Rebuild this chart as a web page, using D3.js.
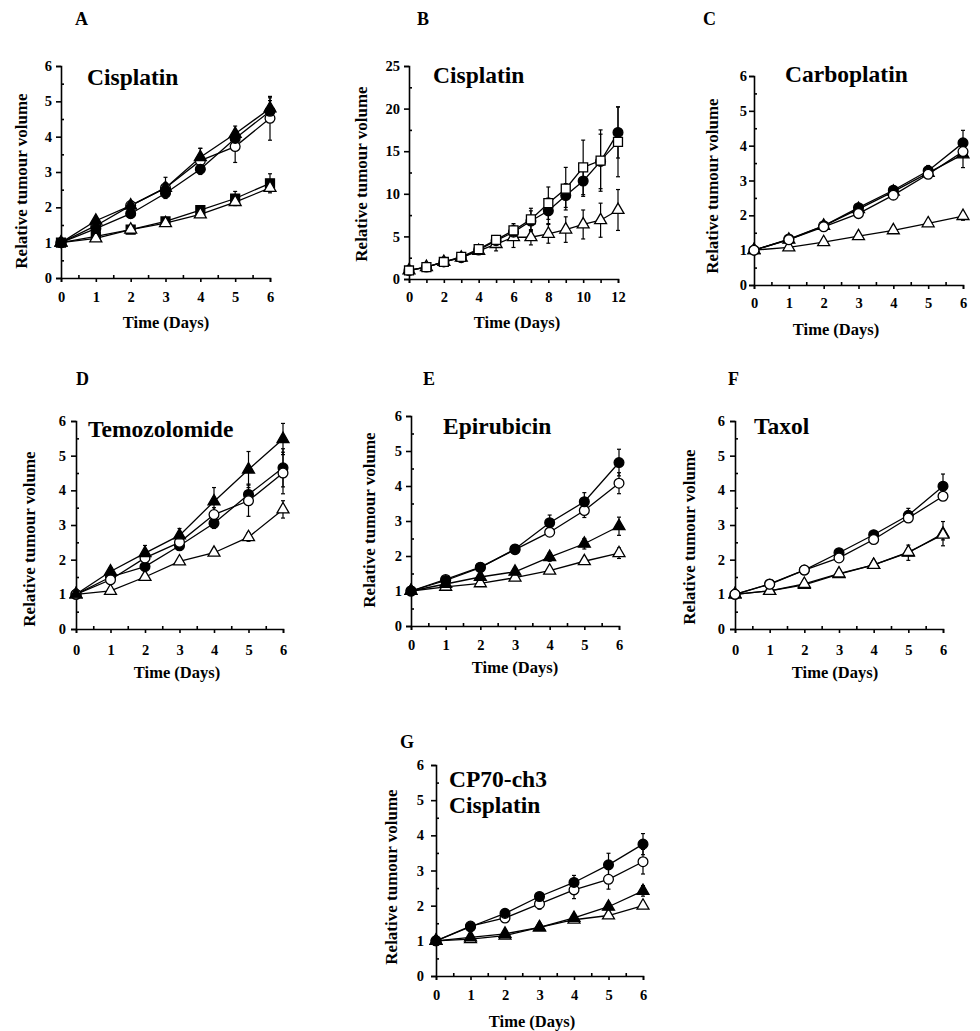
<!DOCTYPE html>
<html lang="en">
<head>
<meta charset="utf-8">
<title>Relative tumour volume</title>
<script src="https://d3js.org/d3.v7.min.js"></script>
<style>
  body { margin: 0; background: #fff; }
  text { font-family: "Liberation Serif", "Times New Roman", serif; font-weight: bold; fill: #000; }
</style>
</head>
<body>
<script>
    // time points
    const days6 = [0, 1, 2, 3, 4, 5, 6];
    const days12 = [0, 1, 2, 3, 4, 5, 6, 7, 8, 9, 10, 11, 12];
    const yTicks6 = [0, 1, 2, 3, 4, 5, 6];
    const yTicks25 = [0, 5, 10, 15, 20, 25];
    const xLabels12 = [0, 2, 4, 6, 8, 10, 12];

    // A - Cisplatin
    const aFilledTri = [1, 1.62, 2.05, 2.55, 3.42, 4.08, 4.8];
    const aFilledTriErr = [0, 0.06, 0.1, 0.15, 0.25, 0.22, 0.3];
    const aFilledCircle = [1, 1.4, 1.82, 2.4, 3.08, 3.95, 4.72];
    const aFilledCircleErr = [0, 0.05, 0.08, 0.1, 0.15, 0.2, 0.3];
    const aOpenCircle = [1, 1.48, 2.05, 2.55, 3.32, 3.72, 4.52];
    const aOpenCircleErr = [0, 0.06, 0.12, 0.3, 0.35, 0.45, 0.62];
    const aFilledSquare = [1, 1.18, 1.37, 1.6, 1.92, 2.25, 2.68];
    const aFilledSquareErr = [0, 0.03, 0.05, 0.05, 0.12, 0.2, 0.27];
    const aOpenTri = [1, 1.12, 1.37, 1.55, 1.8, 2.15, 2.55];
    const aOpenTriErr = [0, 0.03, 0.04, 0.05, 0.06, 0.08, 0.1];

    // B - Cisplatin, 12 days
    const bOpenSquare = [1, 1.4, 2.0, 2.6, 3.5, 4.6, 5.7, 7.0, 8.9, 10.6, 13.1, 13.9, 16.1];
    const bOpenSquareErr = [0, 0.1, 0.15, 0.2, 0.4, 0.5, 0.8, 1.3, 1.9, 2.5, 3.2, 3.6, 4.1];
    const bFilledCircle = [1, 1.4, 2.0, 2.5, 3.4, 4.5, 5.5, 6.8, 8.0, 9.8, 11.5, 13.8, 17.2];
    const bFilledCircleErr = [0, 0.1, 0.15, 0.2, 0.3, 0.5, 0.8, 1.2, 1.5, 1.4, 1.8, 3.2, 3.0];
    const bOpenTri = [1, 1.4, 2.0, 2.5, 3.3, 4.1, 4.9, 4.9, 5.3, 5.8, 6.4, 6.9, 8.1];
    const bOpenTriErr = [0, 0.1, 0.15, 0.2, 0.3, 0.8, 1.2, 0.9, 1.1, 1.5, 1.7, 2.0, 2.4];

    // C - Carboplatin
    const cFilledCircle = [1, 1.32, 1.7, 2.22, 2.72, 3.28, 4.08];
    const cFilledCircleErr = [0, 0.04, 0.05, 0.06, 0.08, 0.15, 0.36];
    const cFilledTri = [1, 1.3, 1.7, 2.18, 2.68, 3.22, 3.75];
    const cFilledTriErr = [0, 0.04, 0.05, 0.05, 0.08, 0.15, 0.38];
    const cOpenCircle = [1, 1.3, 1.67, 2.05, 2.58, 3.18, 3.83];
    const cOpenCircleErr = [0, 0.03, 0.05, 0.06, 0.07, 0.1, 0.12];
    const cOpenTri = [1, 1.08, 1.23, 1.4, 1.57, 1.77, 1.98];
    const cOpenTriErr = [0, 0.02, 0.03, 0.04, 0.05, 0.06, 0.12];

    // D - Temozolomide
    const dFilledTri = [1, 1.66, 2.19, 2.7, 3.68, 4.6, 5.48];
    const dFilledTriErr = [0, 0.1, 0.22, 0.2, 0.4, 0.52, 0.45];
    const dFilledCircle = [1, 1.5, 1.8, 2.4, 3.05, 3.88, 4.65];
    const dFilledCircleErr = [0, 0.08, 0.08, 0.12, 0.15, 0.3, 0.55];
    const dOpenCircle = [1, 1.42, 2.05, 2.5, 3.3, 3.7, 4.5];
    const dOpenCircleErr = [0, 0.07, 0.15, 0.18, 0.2, 0.45, 0.6];
    const dOpenTri = [1, 1.1, 1.5, 1.95, 2.2, 2.65, 3.45];
    const dOpenTriErr = [0, 0.03, 0.05, 0.06, 0.06, 0.12, 0.25];

    // E - Epirubicin
    const eFilledCircle = [1, 1.3, 1.67, 2.2, 2.95, 3.55, 4.67];
    const eFilledCircleErr = [0, 0.04, 0.05, 0.06, 0.22, 0.26, 0.38];
    const eOpenCircle = [1, 1.33, 1.68, 2.18, 2.68, 3.3, 4.08];
    const eOpenCircleErr = [0, 0.04, 0.05, 0.06, 0.07, 0.2, 0.3];
    const eFilledTri = [1, 1.2, 1.4, 1.55, 1.97, 2.35, 2.85];
    const eFilledTriErr = [0, 0.03, 0.04, 0.05, 0.12, 0.15, 0.26];
    const eOpenTri = [1, 1.12, 1.22, 1.38, 1.58, 1.85, 2.08];
    const eOpenTriErr = [0, 0.02, 0.03, 0.04, 0.05, 0.08, 0.15];

    // F - Taxol
    const fFilledCircle = [1, 1.3, 1.7, 2.2, 2.72, 3.28, 4.12];
    const fFilledCircleErr = [0, 0.04, 0.05, 0.06, 0.08, 0.2, 0.35];
    const fOpenCircle = [1, 1.29, 1.7, 2.05, 2.58, 3.2, 3.83];
    const fOpenCircleErr = [0, 0.03, 0.04, 0.05, 0.07, 0.1, 0.12];
    const fFilledTri = [1, 1.1, 1.27, 1.58, 1.85, 2.2, 2.75];
    const fFilledTriErr = [0, 0.03, 0.04, 0.05, 0.1, 0.22, 0.35];
    const fOpenTri = [1, 1.1, 1.3, 1.6, 1.85, 2.22, 2.72];
    const fOpenTriErr = [0, 0.02, 0.03, 0.04, 0.05, 0.08, 0.15];

    // G - CP70-ch3 Cisplatin
    const gFilledCircle = [1, 1.4, 1.78, 2.26, 2.66, 3.16, 3.75];
    const gFilledCircleErr = [0, 0.05, 0.06, 0.12, 0.2, 0.33, 0.3];
    const gOpenCircle = [1, 1.42, 1.65, 2.05, 2.45, 2.75, 3.25];
    const gOpenCircleErr = [0, 0.1, 0.06, 0.15, 0.25, 0.28, 0.35];
    const gFilledTri = [1, 1.1, 1.2, 1.38, 1.65, 1.97, 2.42];
    const gFilledTriErr = [0, 0.03, 0.04, 0.05, 0.06, 0.1, 0.15];
    const gOpenTri = [1, 1.05, 1.15, 1.38, 1.6, 1.72, 2.0];
    const gOpenTriErr = [0, 0.02, 0.03, 0.04, 0.05, 0.06, 0.06];

    const ser = (shape, filled, values, err) => ({shape, filled, values, err});

    // panel layout (pixel positions on the page)
    const panels = [
        {letter: 'A', title: ['Cisplatin'], days: days6, yMax: 6, yTicks: yTicks6, xLabels: days6,
         ax: 61, ax1: 270, top: 66, bottom: 278, lx: 75, ly: 25, tx: 87, ty: 85,
         ylx: 27, yly: 181, xlx: 166, xly: 328, yPad: 9, xBase: 24,
         series: [ser('square', true, aFilledSquare, aFilledSquareErr), ser('triangle', false, aOpenTri, aOpenTriErr),
                  ser('circle', false, aOpenCircle, aOpenCircleErr), ser('circle', true, aFilledCircle, aFilledCircleErr),
                  ser('triangle', true, aFilledTri, aFilledTriErr)]},
        {letter: 'B', title: ['Cisplatin'], days: days12, yMax: 25, yTicks: yTicks25, xLabels: xLabels12,
         ax: 409, ax1: 618, top: 66, bottom: 279, lx: 417, ly: 25, tx: 433, ty: 83,
         ylx: 367, yly: 174, xlx: 517, xly: 328, yPad: 9, xBase: 23,
         series: [ser('triangle', false, bOpenTri, bOpenTriErr), ser('circle', true, bFilledCircle, bFilledCircleErr),
                  ser('square', false, bOpenSquare, bOpenSquareErr)]},
        {letter: 'C', title: ['Carboplatin'], days: days6, yMax: 6, yTicks: yTicks6, xLabels: days6,
         ax: 754, ax1: 963, top: 76, bottom: 285, lx: 703, ly: 25, tx: 785, ty: 82,
         ylx: 718, yly: 186, xlx: 836, xly: 335, yPad: 7, xBase: 23,
         series: [ser('triangle', false, cOpenTri, cOpenTriErr), ser('triangle', true, cFilledTri, cFilledTriErr),
                  ser('circle', true, cFilledCircle, cFilledCircleErr), ser('circle', false, cOpenCircle, cOpenCircleErr)]},
        {letter: 'D', title: ['Temozolomide'], days: days6, yMax: 6, yTicks: yTicks6, xLabels: days6,
         ax: 76, ax1: 283, top: 421, bottom: 629, lx: 76, ly: 385, tx: 88, ty: 437,
         ylx: 35, yly: 539, xlx: 177, xly: 678, yPad: 10, xBase: 26,
         series: [ser('triangle', false, dOpenTri, dOpenTriErr), ser('circle', true, dFilledCircle, dFilledCircleErr),
                  ser('circle', false, dOpenCircle, dOpenCircleErr), ser('triangle', true, dFilledTri, dFilledTriErr)]},
        {letter: 'E', title: ['Epirubicin'], days: days6, yMax: 6, yTicks: yTicks6, xLabels: days6,
         ax: 411, ax1: 619, top: 416, bottom: 626, lx: 423, ly: 385, tx: 443, ty: 434,
         ylx: 375, yly: 520, xlx: 515, xly: 673, yPad: 9, xBase: 24,
         series: [ser('triangle', false, eOpenTri, eOpenTriErr), ser('triangle', true, eFilledTri, eFilledTriErr),
                  ser('circle', false, eOpenCircle, eOpenCircleErr), ser('circle', true, eFilledCircle, eFilledCircleErr)]},
        {letter: 'F', title: ['Taxol'], days: days6, yMax: 6, yTicks: yTicks6, xLabels: days6,
         ax: 735, ax1: 943, top: 421, bottom: 629, lx: 728, ly: 385, tx: 754, ty: 434,
         ylx: 695, yly: 537, xlx: 835, xly: 678, yPad: 10, xBase: 26,
         series: [ser('triangle', true, fFilledTri, fFilledTriErr), ser('triangle', false, fOpenTri, fOpenTriErr),
                  ser('circle', true, fFilledCircle, fFilledCircleErr), ser('circle', false, fOpenCircle, fOpenCircleErr)]},
        {letter: 'G', title: ['CP70-ch3', 'Cisplatin'], days: days6, yMax: 6, yTicks: yTicks6, xLabels: days6,
         ax: 436, ax1: 643, top: 765, bottom: 976, lx: 400, ly: 748, tx: 449, ty: 787,
         ylx: 397, yly: 877, xlx: 532, xly: 1027, yPad: 12, xBase: 24,
         series: [ser('triangle', false, gOpenTri, gOpenTriErr), ser('triangle', true, gFilledTri, gFilledTriErr),
                  ser('circle', false, gOpenCircle, gOpenCircleErr), ser('circle', true, gFilledCircle, gFilledCircleErr)]}
    ];

    const svg = d3.select('body').append('svg').attr('width', 980).attr('height', 1031);

    const symbolFor = {circle: d3.symbolCircle, triangle: d3.symbolTriangle, square: d3.symbolSquare};
    const sizeFor = {circle: 75, triangle: 62, square: 80};

    panels.forEach(p => {
        const xMax = p.days[p.days.length - 1];
        const x = d3.scaleLinear().domain([0, xMax]).range([p.ax, p.ax1]);
        const y = d3.scaleLinear().domain([0, p.yMax]).range([p.bottom, p.top]);
        const g = svg.append('g');

        // axes
        const xAxis = g.append('g').attr('transform', `translate(0,${p.bottom})`)
            .call(d3.axisBottom(x).tickValues(p.days).tickSizeOuter(0).tickSize(4)
                .tickFormat(d => p.xLabels.includes(d) ? d : ''));
        xAxis.selectAll('text').attr('y', p.xBase).attr('dy', 0).style('font-size', '14.5px');

        const yAxis = g.append('g').attr('transform', `translate(${p.ax},0)`)
            .call(d3.axisLeft(y).tickValues(p.yTicks).tickFormat(d3.format('d'))
                .tickSizeOuter(0).tickSize(5).tickPadding(p.yPad - 5));
        yAxis.selectAll('text').style('font-size', '14.5px');

        // minor ticks
        const step = p.yTicks[1] - p.yTicks[0];
        const yMinor = d3.range(step / 2, p.yMax, step);
        g.append('g').attr('transform', `translate(${p.ax},0)`)
            .call(d3.axisRight(y).tickValues(yMinor).tickSize(3).tickFormat('').tickSizeOuter(0))
            .select('.domain').remove();
        if (xMax === 6) {
            g.append('g').attr('transform', `translate(0,${p.bottom})`)
                .call(d3.axisTop(x).tickValues(d3.range(0.5, xMax, 1)).tickSize(3).tickFormat('').tickSizeOuter(0))
                .select('.domain').remove();
        }
        g.selectAll('.domain, .tick line').attr('stroke', '#000').attr('stroke-width', 1.6);

        // labels
        g.append('text').attr('x', p.lx).attr('y', p.ly).style('font-size', '18px').text(p.letter);
        p.title.forEach((t, i) => {
            g.append('text').attr('x', p.tx).attr('y', p.ty + i * 26).style('font-size', '23.5px').text(t);
        });
        g.append('text').attr('transform', `translate(${p.ylx},${p.yly}) rotate(-90)`)
            .attr('text-anchor', 'middle').style('font-size', '17px').text('Relative tumour volume');
        g.append('text').attr('x', p.xlx).attr('y', p.xly)
            .attr('text-anchor', 'middle').style('font-size', '16.5px').text('Time (Days)');

        // error bars
        p.series.forEach(s => {
            const eb = g.append('g').attr('stroke', '#000').attr('stroke-width', 1.2);
            p.days.forEach((d, i) => {
                const e = s.err[i];
                if (!e) return;
                const cx = x(d), y0 = y(s.values[i] - e), y1 = y(s.values[i] + e);
                eb.append('line').attr('x1', cx).attr('x2', cx).attr('y1', y0).attr('y2', y1);
                eb.append('line').attr('x1', cx - 2).attr('x2', cx + 2).attr('y1', y0).attr('y2', y0);
                eb.append('line').attr('x1', cx - 2).attr('x2', cx + 2).attr('y1', y1).attr('y2', y1);
            });
        });

        // lines
        const line = d3.line().x((d, i) => x(p.days[i])).y(d => y(d));
        p.series.forEach(s => {
            g.append('path').attr('d', line(s.values))
                .attr('fill', 'none').attr('stroke', '#000').attr('stroke-width', 1.3);
        });

        // markers
        p.series.forEach(s => {
            const sym = d3.symbol().type(symbolFor[s.shape]).size(sizeFor[s.shape]);
            g.append('g').selectAll('path').data(s.values).join('path')
                .attr('d', sym)
                .attr('transform', (d, i) => `translate(${x(p.days[i])},${y(d)})`)
                .attr('fill', s.filled ? '#000' : '#fff')
                .attr('stroke', '#000').attr('stroke-width', 1.3);
        });
    });
</script>
</body>
</html>
